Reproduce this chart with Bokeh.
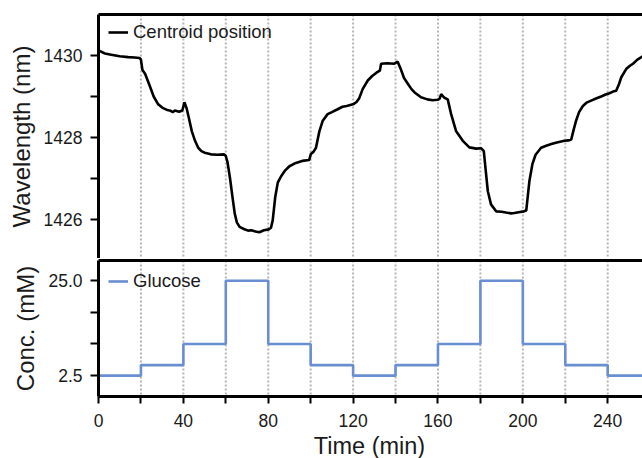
from bokeh.plotting import figure
from bokeh.layouts import column
from bokeh.models import LinearAxis, FixedTicker, Span, NumeralTickFormatter, Range1d, Label
from bokeh.embed import file_html
from bokeh.resources import INLINE

# ---------------- data ----------------
time_min = [0, 1, 3, 6, 10, 14, 17, 19.3, 20, 20.7, 22, 24, 26, 28, 30, 32, 34, 35, 36, 38,
            39.5, 40.5, 41.5, 42.7, 44, 45.5, 47, 48.5, 50, 53, 56, 59.2, 60, 60.8, 62, 63.2,
            64.2, 65.2, 66.5, 68.5, 70.5, 72, 74, 75.8, 78, 80.2, 81.3, 82.1, 83.3, 84.5, 86,
            88, 90, 93, 96, 99.3, 100.1, 101.3, 102.5, 104.1, 105.7, 108, 110, 112.7, 115, 117,
            120.3, 121.5, 122.9, 124.5, 126.9, 129, 131, 132.6, 133.2, 136, 139.4, 141, 142.6,
            144, 145.8, 147.5, 149, 152, 155, 157.5, 159.9, 160.8, 161.5, 163, 164.6, 166.2,
            168.5, 171.7, 174.8, 178, 180.3, 181.6, 182.5, 183.5, 185, 187.4, 190, 192, 194.5,
            196, 198, 200.5, 201.6, 203.1, 204.5, 206, 208.6, 211, 213.4, 216, 219.6, 221.5,
            222.8, 224, 225.1, 226.5, 228.3, 230, 232.2, 234.5, 236.9, 239, 240.8, 242.5, 244,
            245.3, 246.4, 248.7, 250.5, 251.9, 254, 256.5]
wavelength_nm = [1430.12, 1430.10, 1430.05, 1430.02, 1429.98, 1429.96, 1429.95, 1429.94, 1429.90,
                 1429.65, 1429.55, 1429.28, 1429.00, 1428.82, 1428.73, 1428.68, 1428.65, 1428.62,
                 1428.66, 1428.63, 1428.66, 1428.86, 1428.72, 1428.45, 1428.15, 1427.92, 1427.75,
                 1427.67, 1427.63, 1427.59, 1427.58, 1427.59, 1427.55, 1427.40, 1427.00, 1426.53,
                 1426.15, 1425.93, 1425.82, 1425.77, 1425.73, 1425.74, 1425.71, 1425.69, 1425.74,
                 1425.76, 1425.80, 1425.98, 1426.55, 1426.90, 1427.05, 1427.20, 1427.30, 1427.38,
                 1427.43, 1427.45, 1427.60, 1427.65, 1427.75, 1428.15, 1428.41, 1428.57, 1428.62,
                 1428.69, 1428.75, 1428.77, 1428.82, 1428.86, 1428.96, 1429.18, 1429.39, 1429.50,
                 1429.58, 1429.63, 1429.80, 1429.81, 1429.80, 1429.85, 1429.65, 1429.45, 1429.31,
                 1429.18, 1429.10, 1428.98, 1428.93, 1428.91, 1428.92, 1428.95, 1429.06, 1428.97,
                 1428.93, 1428.57, 1428.16, 1427.92, 1427.76, 1427.73, 1427.74, 1427.67, 1427.20,
                 1426.69, 1426.37, 1426.20, 1426.19, 1426.17, 1426.15, 1426.16, 1426.18, 1426.20,
                 1426.22, 1426.94, 1427.35, 1427.58, 1427.75, 1427.80, 1427.84, 1427.88, 1427.92,
                 1427.93, 1427.95, 1428.20, 1428.41, 1428.62, 1428.77, 1428.85, 1428.90, 1428.95,
                 1429.00, 1429.05, 1429.08, 1429.12, 1429.14, 1429.30, 1429.47, 1429.67, 1429.75,
                 1429.80, 1429.90, 1429.98]

step_times = [0, 20, 40, 60, 80, 100, 120, 140, 160, 180, 200, 220, 240, 260]
glucose_mM = [2.5, 5, 10, 25, 10, 5, 2.5, 5, 10, 25, 10, 5, 2.5, 2.5]
switch_times = [20, 40, 60, 80, 100, 120, 140, 160, 180, 200, 220, 240]

x_major_ticks = [0, 40, 80, 120, 160, 200, 240]
x_minor_ticks = [20, 60, 100, 140, 180, 220, 260]
wl_major_ticks = [1426, 1428, 1430]
wl_minor_ticks = [1427, 1429]
conc_major_ticks = [2.5, 25.0]
conc_minor_ticks = [10, 17.5]

# ---------------- style ----------------
FONT = "Liberation Sans"
TXT = "#1a1a1a"
BLUE = "#6a8ed2"
x_range = Range1d(0, 256.4)


def style_axis(ax, title_size="24px"):
    ax.axis_line_width = 3
    ax.axis_line_color = "black"
    ax.major_tick_line_width = 2
    ax.minor_tick_line_width = 2
    ax.major_tick_in = 0
    ax.minor_tick_in = 0
    ax.major_tick_out = 8
    ax.minor_tick_out = 8
    ax.major_label_text_font = FONT
    ax.major_label_text_font_size = "17.5px"
    ax.major_label_text_color = TXT
    ax.axis_label_text_font = FONT
    ax.axis_label_text_font_size = title_size
    ax.axis_label_text_font_style = "normal"
    ax.axis_label_text_color = TXT


def border_above(p):
    ax = LinearAxis(ticker=FixedTicker(ticks=[]), axis_line_width=3, axis_line_color="black",
                    major_tick_out=0, major_tick_in=0, minor_tick_out=0, minor_tick_in=0,
                    major_label_text_font_size="0px", major_label_standoff=0)
    p.add_layout(ax, "above")


def style_fig(p):
    p.outline_line_color = None
    p.xgrid.visible = False
    p.ygrid.visible = False
    p.background_fill_color = "white"
    p.border_fill_color = "white"
    for t in switch_times:
        p.add_layout(Span(location=t, dimension="height", line_color="#b5b5b5",
                          line_dash="2 2", line_width=2, level="underlay"))


# ---------------- top panel ----------------
top = figure(width=642, height=258, x_range=x_range, y_range=Range1d(1425.05, 1431.0),
             output_backend="svg", toolbar_location=None, x_axis_location=None,
             min_border_left=98, min_border_right=0, min_border_top=14, min_border_bottom=0)
style_fig(top)
border_above(top)
top.line(time_min, wavelength_nm, line_color="black", line_width=2.6,
         legend_label="Centroid position")
ya = top.yaxis[0]
ya.ticker = FixedTicker(ticks=wl_major_ticks, minor_ticks=wl_minor_ticks)
ya.axis_label = "Wavelength (nm)"
style_axis(ya)
ya.major_label_standoff = 8
ya.axis_label_standoff = 6

# ---------------- bottom panel ----------------
bot = figure(width=642, height=176, x_range=x_range, y_range=Range1d(-2.45, 29.8),
             output_backend="svg", toolbar_location=None,
             min_border_left=98, min_border_right=0, min_border_top=2, min_border_bottom=38)
xa = bot.below[0]
style_fig(bot)
border_above(bot)
bot.step(step_times, glucose_mM, mode="after", line_color=BLUE, line_width=2.6,
         legend_label="Glucose")
ya2 = bot.yaxis[0]
ya2.ticker = FixedTicker(ticks=conc_major_ticks, minor_ticks=conc_minor_ticks)
ya2.formatter = NumeralTickFormatter(format="0.0")
ya2.axis_label = "Conc. (mM)"
style_axis(ya2)
ya2.major_label_standoff = 8
ya2.axis_label_standoff = 6
xa.ticker = FixedTicker(ticks=x_major_ticks, minor_ticks=x_minor_ticks)
style_axis(xa)
xa.major_tick_out = 7
xa.minor_tick_out = 7
xa.major_label_standoff = 10

# ---------------- x-axis title strip ----------------
xt = figure(width=642, height=24, output_backend="svg", toolbar_location=None,
            x_axis_location=None, y_axis_location=None,
            min_border_left=0, min_border_right=0, min_border_top=0, min_border_bottom=0)
xt.outline_line_color = None
xt.xgrid.visible = False
xt.ygrid.visible = False
xt.add_layout(Label(x=271, y=13, x_units="screen", y_units="screen", text="Time (min)",
                    text_font=FONT, text_font_size="23.5px", text_color=TXT,
                    text_align="center", text_baseline="alphabetic"))

for p in (top, bot):
    lg = p.legend[0]
    lg.margin = 2
    lg.padding = 8
    lg.spacing = 0
    lg.glyph_width = 20
    lg.label_standoff = 5
    lg.label_text_font = FONT
    lg.label_text_font_size = "18.5px"
    lg.label_text_color = TXT
    lg.background_fill_alpha = 0
    lg.border_line_alpha = 0
top.legend[0].location = (2, 207)
bot.legend[0].location = "top_left"

layout = column(top, bot, xt, spacing=0)
open("out.html", "w").write(file_html(layout, INLINE))
